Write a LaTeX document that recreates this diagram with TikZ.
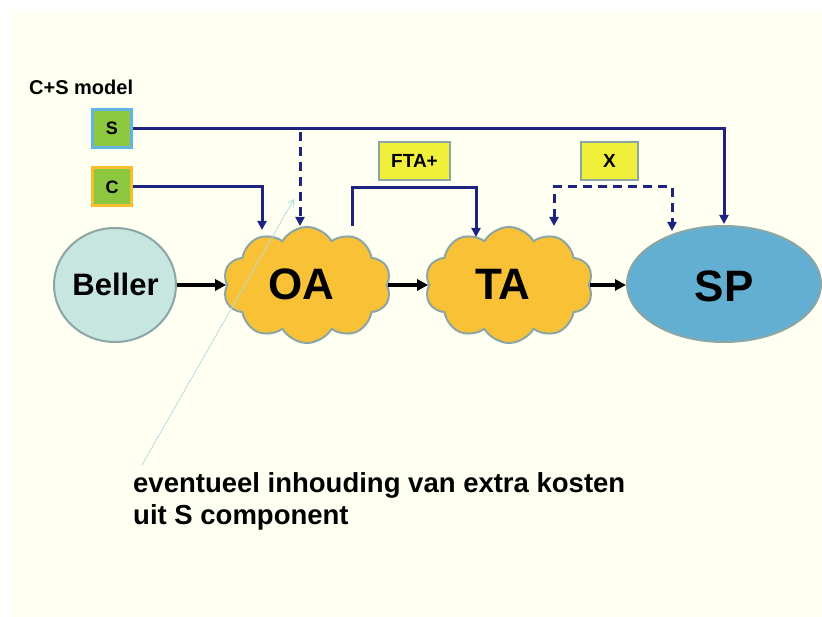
\documentclass[tikz,border=0pt]{standalone}
\usepackage{fontspec}
\setmainfont{Liberation Sans}
\usetikzlibrary{shapes.symbols,shapes.geometric,arrows.meta}
\definecolor{bgcream}{RGB}{255,255,242}
\definecolor{navy}{RGB}{28,36,128}
\definecolor{cloudfill}{RGB}{249,194,54}
\definecolor{grayedge}{RGB}{140,165,165}
\definecolor{bellerfill}{RGB}{200,230,224}
\definecolor{spfill}{RGB}{98,175,210}
\definecolor{boxgreen}{RGB}{141,198,63}
\definecolor{sedge}{RGB}{98,181,224}
\definecolor{cedge}{RGB}{247,190,46}
\definecolor{boxyellow}{RGB}{240,240,58}
\definecolor{annot}{RGB}{176,222,222}
\tikzset{
  cloudnode/.style={cloud, cloud puffs=10, cloud puff arc=120, aspect=1.45, draw=grayedge, line width=2pt, fill=cloudfill, minimum width=168, minimum height=116, inner sep=0pt},
  bigtxt/.style={font=\fontsize{44}{48}\selectfont\bfseries, inner sep=0pt, anchor=base},
  smallbox/.style={draw, line width=3pt, fill=boxgreen, minimum width=39, minimum height=38, inner sep=0pt, font=\fontsize{18}{20}\selectfont\bfseries},
  labelbox/.style={draw=grayedge, line width=2pt, fill=boxyellow, minimum height=38, inner sep=0pt, font=\fontsize{19}{22}\selectfont\bfseries},
  navyline/.style={draw=navy, line width=3pt, -{Triangle[length=9pt,width=9pt]}},
  navydash/.style={navyline, dash pattern=on 9pt off 6pt},
  blackarrow/.style={draw=black, line width=3.2pt, -{Triangle[length=11pt,width=11pt]}},
}
\begin{document}
\begin{tikzpicture}[x=1pt,y=-1pt]
\useasboundingbox (0,0) rectangle (822,617);
\fill[bgcream] (11,11) rectangle (822,617);

% main nodes
\node[ellipse, draw=grayedge, line width=2pt, fill=bellerfill, minimum width=122, minimum height=114, inner sep=0pt] (beller) at (115,285) {};
\node[cloudnode] (oa) at (307,285) {};
\node[cloudnode] (ta) at (509,285) {};
\node[ellipse, draw=grayedge, line width=2pt, fill=spfill, minimum width=194, minimum height=116, inner sep=0pt] (sp) at (724,284) {};

\node[font=\fontsize{31}{36}\selectfont\bfseries, inner sep=0pt, anchor=base] (bellertxt) at (115.5,296) {Beller};
\node[bigtxt] (oatxt) at (301,300) {OA};
\node[bigtxt] (tatxt) at (503,300) {TA};
\node[bigtxt] (sptxt) at (724,302) {SP};

% boxes
\node[font=\fontsize{20}{24}\selectfont\bfseries, inner sep=0pt, anchor=base west] (title) at (29,95) {C+S model};
\node[smallbox, draw=sedge] (s) at (112,128.5) {S};
\node[smallbox, draw=cedge] (c) at (112,187) {C};
\node[labelbox, minimum width=71] (fta) at (414.5,161) {FTA+};
\node[labelbox, minimum width=57] (x) at (609.5,161) {X};

% annotation text
\node[font=\fontsize{27.5}{32}\selectfont\bfseries, inner sep=0pt, anchor=base west] (note1) at (133,492) {eventueel inhouding van extra kosten};
\node[font=\fontsize{27.5}{32}\selectfont\bfseries, inner sep=0pt, anchor=base west] (note2) at (133,524) {uit S component};

% coordinates on boundaries
\coordinate (sjoin) at (300,128.5);
\coordinate (oatopS) at (300,226);
\coordinate (oatopC) at (262,230);
\coordinate (oaout) at (352,226);
\coordinate (tain) at (476,237);
\coordinate (taout) at (554,226);
\coordinate (spinX) at (672,231);
\coordinate (spinS) at (724,224);
\coordinate (annotstart) at (142,465);
\coordinate (annottip) at (294,199);

% flow arrows
\draw[blackarrow] (beller.east) -- (beller.east -| oa.west);
\draw[blackarrow] (oa.east) -- (oa.east -| ta.west);
\draw[blackarrow] (ta.east) -- (ta.east -| sp.west);

% S and C
\draw[navyline] (s.east) -| (spinS);
\draw[navydash] (sjoin) ++(0,4) -- (oatopS);
\draw[navyline] (c.east) -| (oatopC);

% FTA+ connector
\draw[navyline] (oaout) |- (tain |- 0,188) -- (tain);
% X connector
\draw[navydash, {Triangle[length=9pt,width=9pt]}-{Triangle[length=9pt,width=9pt]}] (taout) |- (spinX |- 0,187) -- (spinX);

% annotation pointer
\draw[annot, line width=0.8pt, -{Straight Barb[length=6pt,width=7pt]}] (annotstart) -- (annottip);
\end{tikzpicture}
\end{document}
